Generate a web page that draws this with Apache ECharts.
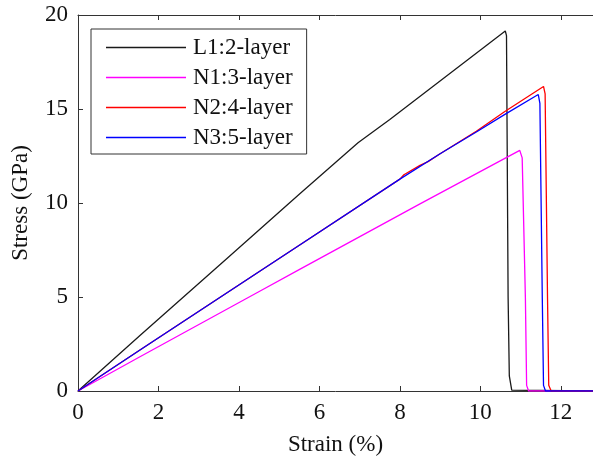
<!DOCTYPE html>
<html>
<head>
<meta charset="utf-8">
<script src="https://cdn.jsdelivr.net/npm/echarts@6/dist/echarts.min.js"></script>
<style>
  html, body { margin: 0; padding: 0; background: #fff; }
  #chart { width: 593px; height: 461px; }
</style>
</head>
<body>
<div id="chart"></div>
<script>
// strain (%) / stress (GPa)
const strainL1 = [0, 1.54, 3.73, 5.52, 6.96, 7.75, 10.62, 10.65, 10.69, 10.72, 10.78, 12.8]
const stressL1 = [0, 2.95, 7.1, 10.5, 13.2, 14.44, 19.15, 18.9, 5.0, 0.8, 0.05, 0]

const strainN1 = [0, 1.54, 4.47, 5.52, 8.5, 10.98, 11.04, 11.12, 11.15, 11.2, 12.8]
const stressN1 = [0, 1.82, 5.25, 6.48, 9.95, 12.8, 12.4, 4.9, 0.3, 0, 0]

const strainN2 = [0, 1.54, 4.47, 5.52, 8.0, 8.1, 8.5, 8.7, 9.0, 9.9, 10.6, 11.57, 11.61, 11.67, 11.7, 11.76, 12.8]
const stressN2 = [0, 2.18, 6.3, 7.78, 11.27, 11.5, 12.0, 12.2, 12.62, 13.82, 14.85, 16.2, 15.8, 4.9, 0.3, 0, 0]

const strainN3 = [0, 1.54, 4.47, 5.52, 8.0, 9.0, 9.9, 10.6, 11.44, 11.48, 11.54, 11.57, 11.62, 12.8]
const stressN3 = [0, 2.18, 6.3, 7.78, 11.27, 12.62, 13.78, 14.7, 15.77, 15.3, 4.9, 0.3, 0, 0]

const seriesNames = ['L1:2-layer', 'N1:3-layer', 'N2:4-layer', 'N3:5-layer']
const seriesColors = ['#1a1a1a', '#ff00ff', '#ff0000', '#0000ff']

const axisColor = '#333333'
const fontFamily = '"Liberation Serif", "DejaVu Serif", serif'

function pairs(xs, ys) {
  return xs.map((x, i) => [x, ys[i]])
}

const chart = echarts.init(document.getElementById('chart'), null, { renderer: 'canvas' })

const allData = [
  pairs(strainL1, stressL1),
  pairs(strainN1, stressN1),
  pairs(strainN2, stressN2),
  pairs(strainN3, stressN3)
]

const axisBase = {
  axisLine: { show: true, lineStyle: { color: axisColor, width: 1 } },
  axisTick: { show: true, inside: true, length: 5, lineStyle: { color: axisColor } },
  splitLine: { show: false }
}

chart.setOption({
  animation: false,
  backgroundColor: '#ffffff',
  grid: { left: 78, right: 0, top: 15, bottom: 68 },
  legend: {
    left: 91,
    top: 29,
    orient: 'vertical',
    data: seriesNames,
    icon: 'rect',
    itemWidth: 80,
    itemHeight: 1.4,
    itemGap: 7,
    padding: [7, 14, 5, 15],
    borderColor: axisColor,
    borderWidth: 1,
    backgroundColor: '#ffffff',
    textStyle: { fontFamily: fontFamily, fontSize: 23, color: '#111', lineHeight: 22, padding: [0, 0, 0, 2] }
  },
  xAxis: [
    Object.assign({}, axisBase, {
      type: 'value',
      min: 0,
      max: 12.8,
      interval: 2,
      name: 'Strain (%)',
      nameLocation: 'middle',
      nameGap: 42,
      nameTextStyle: { fontFamily: fontFamily, fontSize: 23, color: '#111' },
      axisLabel: {
        showMaxLabel: false,
        margin: 10,
        fontFamily: fontFamily,
        fontSize: 23,
        color: '#111',
        formatter: v => (v % 2 === 0 ? String(v) : '')
      }
    }),
    Object.assign({}, axisBase, {
      type: 'value',
      position: 'top',
      min: 0,
      max: 12.8,
      interval: 2,
      axisLabel: { show: false }
    })
  ],
  yAxis: Object.assign({}, axisBase, {
    type: 'value',
    min: 0,
    max: 20,
    interval: 5,
    name: 'Stress (GPa)',
    nameLocation: 'middle',
    nameGap: 46,
    nameTextStyle: { fontFamily: fontFamily, fontSize: 23, color: '#111' },
    axisLabel: { margin: 10, fontFamily: fontFamily, fontSize: 23, color: '#111' }
  }),
  series: allData.map((d, i) => ({
    name: seriesNames[i],
    type: 'line',
    xAxisIndex: 0,
    data: d,
    symbol: 'none',
    color: seriesColors[i],
    lineStyle: { color: seriesColors[i], width: 1.3 },
    z: 2 + i
  }))
})
</script>
</body>
</html>
